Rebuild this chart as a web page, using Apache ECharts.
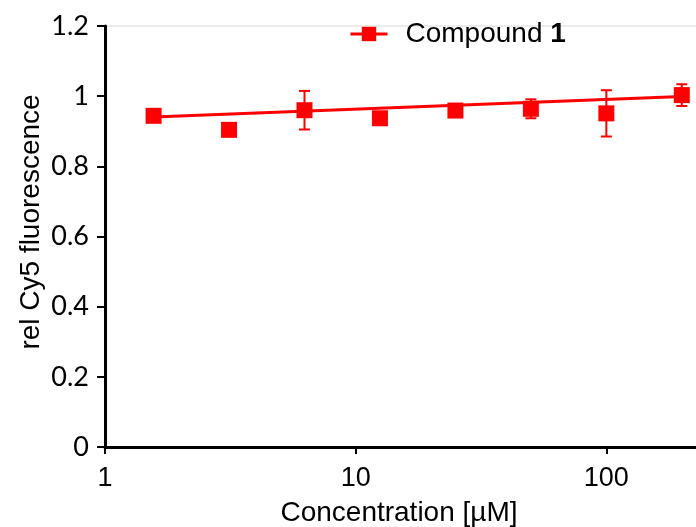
<!DOCTYPE html>
<html>
<head>
<meta charset="utf-8">
<script src="https://cdn.jsdelivr.net/npm/echarts@6/dist/echarts.min.js"></script>
<style>
	html, body { margin: 0; padding: 0; background: #fff; }
	#chartDom { width: 696px; height: 527px; }
</style>
</head>
<body>
<div id="chartDom"></div>
<script>
// concentrations in µM and measured values
var conc = [1.5625, 3.125, 6.25, 12.5, 25, 50, 100, 200];
var relFluor = [0.944, 0.904, 0.960, 0.937, 0.959, 0.964, 0.951, 1.003];
var errFluor = [0.008, 0.004, 0.055, 0.012, 0.006, 0.027, 0.066, 0.031];
// fitted line, end points
var fitX = [1.5625, 200];
var fitY = [0.9406, 0.9989];
var yTicks = [0, 0.2, 0.4, 0.6, 0.8, 1, 1.2];

chartL1();

function chartL1() {
	var dom = document.getElementById("chartDom");
	var myChart = echarts.init(dom);

	var points = conc.map(function(c, i) {
		return [c, relFluor[i]];
	});
	var errData = conc.map(function(c, i) {
		return [c, relFluor[i] - errFluor[i], relFluor[i] + errFluor[i]];
	});
	var fitData = fitX.map(function(c, i) {
		return [c, fitY[i]];
	});

	var option = {
		animation: false,
		// x axis runs past the right edge (plot is cropped at ~226 µM)
		grid: {
			left: 105,
			width: 752,
			top: 26,
			bottom: 80,
			containLabel: false,
			outerBoundsMode: 'none',
			show: true,
			borderColor: '#d9d9d9',
			borderWidth: 1
		},
		// axis titles as text, since the axis middle is off-screen
		graphic: [{
				type: 'text',
				x: 399,
				y: 513,
				style: {
					text: 'Concentration [µM]',
					fill: '#000',
					font: '28px "Liberation Sans"',
					align: 'center',
					verticalAlign: 'middle'
				}
			},
			{
				type: 'text',
				x: 31,
				y: 222,
				rotation: Math.PI / 2,
				style: {
					text: 'rel Cy5 fluorescence',
					fill: '#000',
					font: '28px "Liberation Sans"',
					align: 'center',
					verticalAlign: 'middle'
				}
			}
		],
		legend: {
			left: 344,
			top: 15,
			itemWidth: 37,
			itemHeight: 18,
			data: ['Compound 1'],
			lineStyle: {
				color: '#ff0000',
				width: 3,
				opacity: 1
			},
			formatter: function() {
				return 'Compound {b|1}';
			},
			textStyle: {
				color: '#000',
				fontFamily: 'Liberation Sans',
				fontSize: 28,
				padding: [0, 0, 0, 13],
				rich: {
					b: {
						fontFamily: 'Liberation Sans',
						fontSize: 28,
						fontWeight: 'bold',
						color: '#000'
					}
				}
			}
		},
		xAxis: {
			type: 'log',
			logBase: 10,
			min: 1,
			max: 1000,
			splitLine: { show: false },
			minorTick: { show: false },
			axisLine: {
				lineStyle: { color: '#000', width: 3 }
			},
			axisTick: {
				length: 7,
				lineStyle: { color: '#000', width: 2 }
			},
			axisLabel: {
				margin: 18,
				color: '#000',
				fontFamily: 'Liberation Sans',
				fontSize: 27,
				formatter: function(v) {
					return v >= 1000 ? '' : String(v);
				}
			}
		},
		yAxis: {
			type: 'value',
			min: 0,
			max: 1.2,
			interval: 0.2,
			splitLine: { show: false },
			axisLine: {
				show: true,
				lineStyle: { color: '#000', width: 3 }
			},
			axisTick: {
				show: true,
				length: 8,
				lineStyle: { color: '#000', width: 2 }
			},
			axisLabel: {
				margin: 16,
				color: '#000',
				fontFamily: 'Lato',
				fontSize: 27,
				formatter: function(v) {
					var s = yTicks.filter(function(t) { return Math.abs(t - v) < 1e-6; });
					return s.length ? String(s[0]) : '';
				}
			}
		},
		series: [{
				name: 'fit',
				type: 'line',
				data: fitData,
				symbol: 'none',
				lineStyle: { color: '#ff0000', width: 3 },
				z: 3
			},
			{
				name: 'err',
				type: 'custom',
				data: errData,
				renderItem: function(params, api) {
					var x = api.value(0);
					var lo = api.coord([x, api.value(1)]);
					var hi = api.coord([x, api.value(2)]);
					var cap = 5.5;
					var style = { stroke: '#ff0000', lineWidth: 2 };
					return {
						type: 'group',
						children: [{
								type: 'line',
								shape: { x1: lo[0], y1: lo[1], x2: hi[0], y2: hi[1] },
								style: style
							},
							{
								type: 'line',
								shape: { x1: hi[0] - cap, y1: hi[1], x2: hi[0] + cap, y2: hi[1] },
								style: style
							},
							{
								type: 'line',
								shape: { x1: lo[0] - cap, y1: lo[1], x2: lo[0] + cap, y2: lo[1] },
								style: style
							}
						]
					};
				},
				z: 4
			},
			{
				name: 'Compound 1',
				type: 'line',
				data: points,
				symbol: 'rect',
				symbolSize: 16,
				itemStyle: { color: '#ff0000' },
				lineStyle: { color: '#ff0000', width: 0, opacity: 0 },
				z: 5
			}
		]
	};
	myChart.setOption(option, true);
};
</script>
</body>
</html>
